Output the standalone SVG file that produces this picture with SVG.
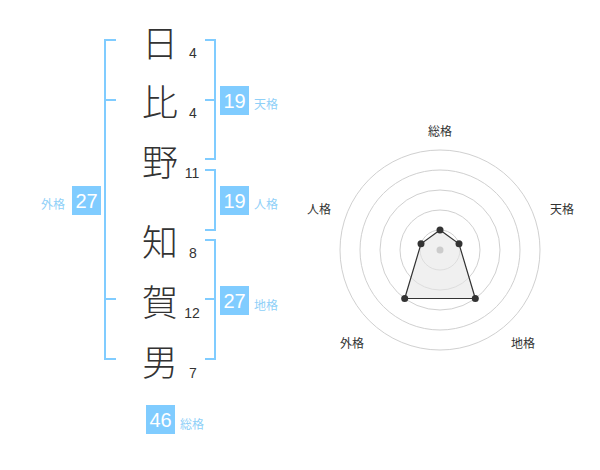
<svg xmlns="http://www.w3.org/2000/svg" width="600" height="470" viewBox="0 0 600 470">
<style>
.kanji{font-family:"Noto Sans CJK JP","Noto Sans CJK SC",sans-serif;font-size:36px;font-weight:300;fill:#333;text-anchor:middle;dominant-baseline:central}
.num{font-family:"Liberation Sans",Arial,sans-serif;font-size:14px;fill:#333;text-anchor:middle;dominant-baseline:central}
.br{fill:none;stroke:#80ccff;stroke-width:2}
.box{fill:#80ccff}
.bn{font-family:"Liberation Sans",Arial,sans-serif;font-size:20px;fill:#fff;text-anchor:middle;dominant-baseline:central}
.bl{font-family:"Noto Sans CJK JP",sans-serif;font-size:12px;fill:#8fd0f8;text-anchor:middle;dominant-baseline:central}
.ring{fill:none;stroke:#d0d0d0;stroke-width:1}
.rl{font-family:"Noto Sans CJK JP",sans-serif;font-size:12px;fill:#333;text-anchor:middle;dominant-baseline:central}
.dot{fill:#333}
</style>
<g id="name">
<text class="kanji" x="160" y="41">日</text>
<text class="kanji" x="160" y="100">比</text>
<text class="kanji" x="160" y="160">野</text>
<text class="kanji" x="160" y="240">知</text>
<text class="kanji" x="160" y="300">賀</text>
<text class="kanji" x="160" y="360">男</text>
<text class="num" x="193" y="53">4</text>
<text class="num" x="193" y="113">4</text>
<text class="num" x="192" y="173">11</text>
<text class="num" x="193" y="253">8</text>
<text class="num" x="192" y="313">12</text>
<text class="num" x="193" y="373">7</text>
</g>
<g id="connectors">
<path class="br" d="M116,40 H105 V359 H116 M105,100 H116 M105,299 H116"/>
<path class="br" d="M205,40 H215 V159 H205 M205,100 H215"/>
<path class="br" d="M205,170 H215 V230 H205"/>
<path class="br" d="M205,240 H215 V359 H205 M205,299 H215"/>
</g>
<g id="tenkaku">
<rect class="box" x="220" y="86" width="29" height="29"/>
<text class="bn" x="234.5" y="101">19</text>
<text class="bl" x="266" y="103">天格</text>
</g>
<g id="jinkaku">
<rect class="box" x="220" y="186" width="29" height="29"/>
<text class="bn" x="234.5" y="201">19</text>
<text class="bl" x="266" y="203">人格</text>
</g>
<g id="chikaku">
<rect class="box" x="220" y="286" width="29" height="29"/>
<text class="bn" x="234.5" y="301">27</text>
<text class="bl" x="266" y="304">地格</text>
</g>
<g id="gaikaku">
<rect class="box" x="72" y="186" width="29" height="29"/>
<text class="bn" x="86.5" y="201">27</text>
<text class="bl" x="53" y="203">外格</text>
</g>
<g id="soukaku">
<rect class="box" x="146" y="405" width="29" height="29"/>
<text class="bn" x="160.5" y="420">46</text>
<text class="bl" x="192" y="423">総格</text>
</g>
<g id="radar">
<circle class="ring" cx="440" cy="250" r="20"/>
<circle class="ring" cx="440" cy="250" r="40"/>
<circle class="ring" cx="440" cy="250" r="60"/>
<circle class="ring" cx="440" cy="250" r="80"/>
<circle class="ring" cx="440" cy="250" r="100"/>
<polygon points="440,230 459,243.8 475.3,298.5 404.7,298.5 421,243.8" fill="#e6e6e6" fill-opacity="0.6" stroke="#333" stroke-width="1.2"/>
<circle cx="440" cy="250" r="3.5" fill="#ccc"/>
<circle class="dot" cx="440" cy="230" r="3.5"/>
<circle class="dot" cx="459" cy="243.8" r="3.5"/>
<circle class="dot" cx="475.3" cy="298.5" r="3.5"/>
<circle class="dot" cx="404.7" cy="298.5" r="3.5"/>
<circle class="dot" cx="421" cy="243.8" r="3.5"/>
<text class="rl" x="440" y="130">総格</text>
<text class="rl" x="562" y="208">天格</text>
<text class="rl" x="319" y="208">人格</text>
<text class="rl" x="352" y="342">外格</text>
<text class="rl" x="523" y="342">地格</text>
</g>
</svg>
